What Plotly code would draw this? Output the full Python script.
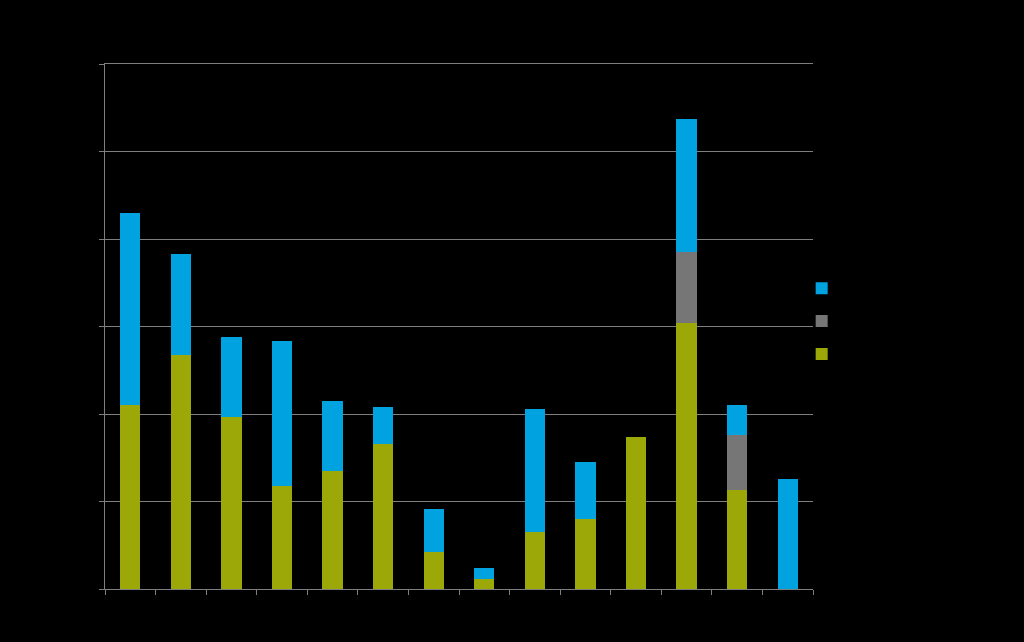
import plotly.graph_objects as go

categories = ["Cat 1", "Cat 2", "Cat 3", "Cat 4", "Cat 5", "Cat 6", "Cat 7",
              "Cat 8", "Cat 9", "Cat 10", "Cat 11", "Cat 12", "Cat 13", "Cat 14"]
green_vals = [21.0, 26.7, 19.7, 11.8, 13.5, 16.6, 4.2, 1.1, 6.5, 8.0, 17.4, 30.4, 11.3, 0.0]
gray_vals = [0, 0, 0, 0, 0, 0, 0, 0, 0, 0, 0, 8.1, 6.3, 0]
blue_vals = [22.0, 11.6, 9.1, 16.5, 8.0, 4.2, 4.9, 1.3, 14.1, 6.5, 0.0, 15.2, 3.4, 12.6]
series_names = ["Series C", "Series B", "Series A"]
y_ticks = [0, 10, 20, 30, 40, 50, 60]

GREEN = "#9BA808"
GRAY = "#767676"
BLUE = "#00A3E0"
GRID = "#7f7f7f"

fig = go.Figure()
fig.add_trace(go.Bar(x=categories, y=green_vals, name=series_names[2], marker_color=GREEN,
                     marker_line_width=0, width=0.4))
fig.add_trace(go.Bar(x=categories, y=gray_vals, name=series_names[1], marker_color=GRAY,
                     marker_line_width=0, width=0.4))
fig.add_trace(go.Bar(x=categories, y=blue_vals, name=series_names[0], marker_color=BLUE,
                     marker_line_width=0, width=0.4))

fig.update_layout(
    barmode="stack",
    width=1024, height=642,
    paper_bgcolor="black", plot_bgcolor="black",
    margin=dict(l=105, r=211, t=64, b=53),
    font=dict(family="Liberation Sans, Arial", color="black", size=14),
    showlegend=True,
    legend=dict(x=0.984, y=0.51, xanchor="left", yanchor="middle",
                traceorder="reversed", font=dict(size=23, color="black"),
                bgcolor="rgba(0,0,0,0)"),
)
fig.update_xaxes(showgrid=False, showline=True, mirror=True, linecolor=GRID, linewidth=1,
                 ticks="outside", tickson="boundaries", ticklen=5, tickcolor=GRID,
                 tickfont=dict(color="black"))
fig.update_yaxes(range=[0, 60], tickvals=y_ticks, showgrid=True, gridcolor=GRID, gridwidth=1,
                 showline=True, linecolor=GRID, linewidth=1, ticks="outside", ticklen=5,
                 tickcolor=GRID, zeroline=False, tickfont=dict(color="black"))

fig.write_html("out.html")
